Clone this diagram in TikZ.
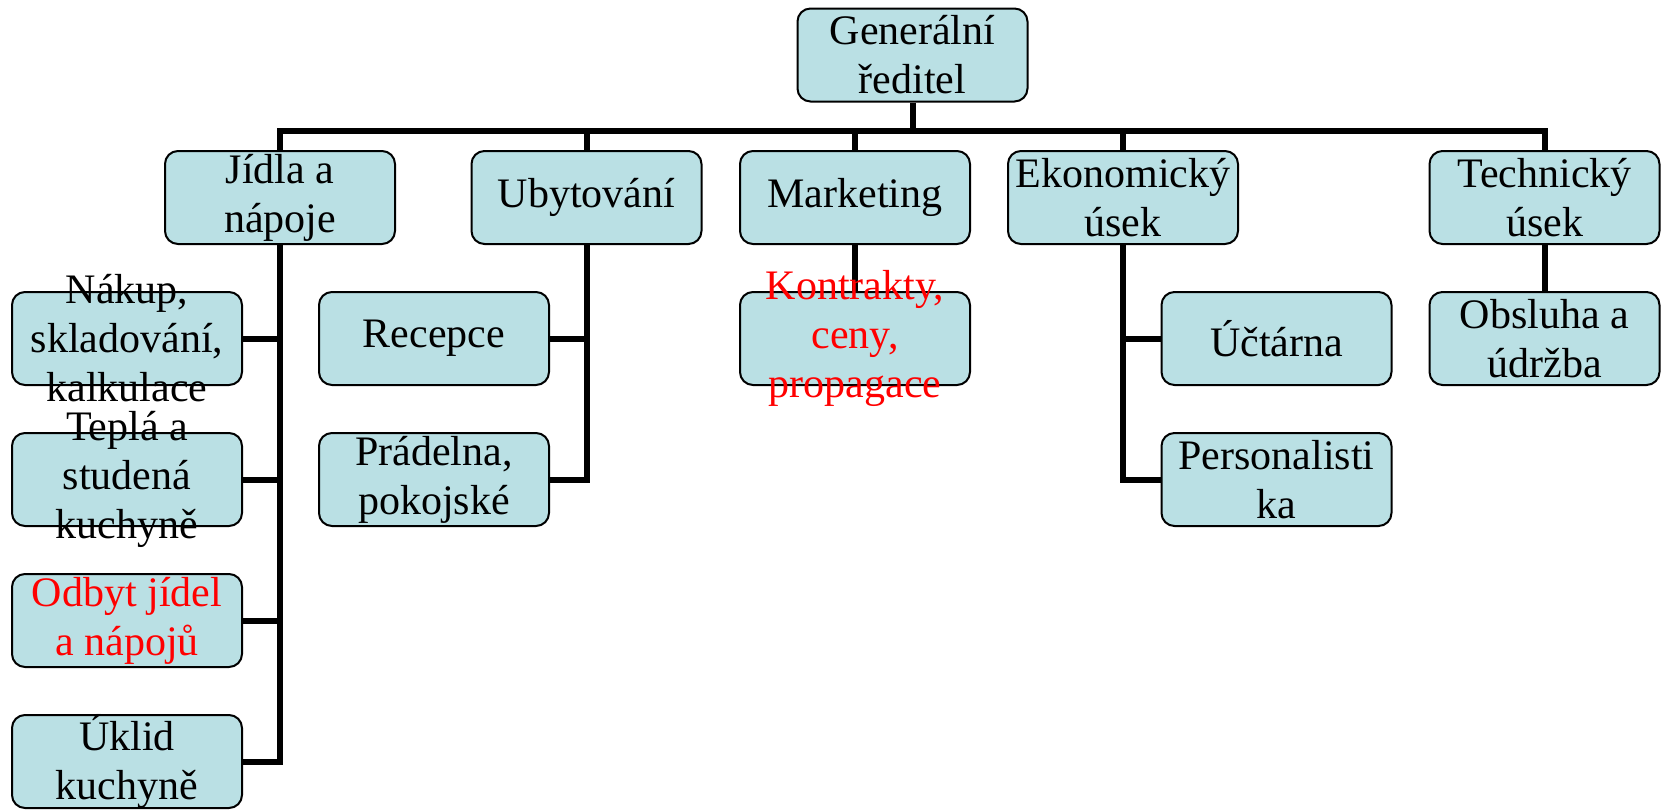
\documentclass[tikz,border=0pt]{standalone}
\usepackage{fontspec}
\setmainfont{Liberation Serif}
\usepackage{tikz}
\definecolor{boxfill}{RGB}{186,224,228}

\begin{document}
\begin{tikzpicture}[x=0.5pt,y=-0.5pt,
    unit/.style={draw, line width=1pt, rounded corners=6.5pt, fill=boxfill,
      minimum width=115pt, minimum height=46.5pt, inner sep=0pt},
    utext/.style={align=center, inner sep=0pt, font=\fontsize{21}{24.5}\selectfont},
    hot/.style={text=red},
    link/.style={line width=3pt}]
  \useasboundingbox (0,0) rectangle (1665,809);

  % boxes
  \node[unit] (gr) at (912.5,55) {};
  \node[unit] (jidla) at (280,197.5) {};
  \node[unit] (ubyt) at (586.5,197.5) {};
  \node[unit] (mark) at (855,197.5) {};
  \node[unit] (ekon) at (1123,197.5) {};
  \node[unit] (tech) at (1544.5,197.5) {};
  \node[unit] (nakup) at (127,338.5) {};
  \node[unit] (tepla) at (127,479.5) {};
  \node[unit] (odbyt) at (127,620.5) {};
  \node[unit] (uklid) at (127,761.5) {};
  \node[unit] (recepce) at (434,338.5) {};
  \node[unit] (pradelna) at (434,479.5) {};
  \node[unit] (kontrakty) at (855,338.5) {};
  \node[unit] (uctarna) at (1276.5,338.5) {};
  \node[unit] (personal) at (1276.5,479.5) {};
  \node[unit] (obsluha) at (1544.5,338.5) {};

  % connectors
  \coordinate (bar) at (912.5,131);
  \draw[link] (gr.south) -- (bar);
  \draw[link] (jidla.north) |- (bar) -| (tech.north);
  \foreach \u in {ubyt,mark,ekon}
    \draw[link] (\u.north) -- (\u.north |- bar);
  \draw[link] (jidla.south) |- (uklid.east);
  \foreach \c in {nakup,tepla,odbyt}
    \draw[link] (\c.east) -- (\c.east -| jidla.south);
  \draw[link] (ubyt.south) |- (pradelna.east);
  \draw[link] (recepce.east) -- (recepce.east -| ubyt.south);
  \draw[link] (mark.south) -- (kontrakty.north);
  \draw[link] (ekon.south) |- (personal.west);
  \draw[link] (uctarna.west) -- (uctarna.west -| ekon.south);
  \draw[link] (tech.south) -- (obsluha.north);

  % texts
  \node[utext] (grtext) at (gr) {Generální\\ředitel};
  \node[utext] (jidlatext) at (jidla) {Jídla a\\nápoje};
  \node[utext] (ubyttext) at (ubyt) {Ubytování};
  \node[utext] (marktext) at (mark) {Marketing};
  \node[utext] (ekontext) at (ekon) {Ekonomický\\úsek};
  \node[utext] (techtext) at (tech) {Technický\\úsek};
  \node[utext] (nakuptext) at (nakup) {Nákup,\\skladování,\\kalkulace};
  \node[utext] (teplatext) at (tepla) {Teplá a\\studená\\kuchyně};
  \node[utext,hot] (odbyttext) at (odbyt) {Odbyt jídel\\a nápojů};
  \node[utext] (uklidtext) at (uklid) {Úklid\\kuchyně};
  \node[utext] (recepcetext) at (recepce) {Recepce};
  \node[utext] (pradelnatext) at (pradelna) {Prádelna,\\pokojské};
  \node[utext,hot] (kontraktytext) at (kontrakty) {Kontrakty,\\ceny,\\propagace};
  \node[utext] (uctarnatext) at (uctarna) {Účtárna};
  \node[utext] (personaltext) at (personal) {Personalisti\\ka};
  \node[utext] (obsluhatext) at (obsluha) {Obsluha a\\údržba};
\end{tikzpicture}
\end{document}
